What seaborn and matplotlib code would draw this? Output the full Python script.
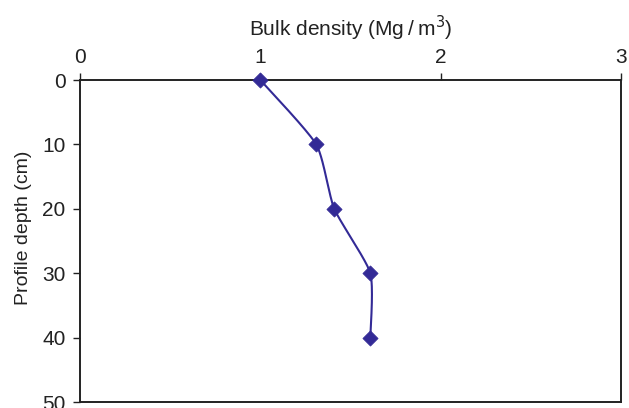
import numpy as np
import pandas as pd
import matplotlib
matplotlib.use("Agg")
import matplotlib.pyplot as plt
import seaborn as sns

# Soil profile: bulk density at each sampled depth
depth_cm = [0, 10, 20, 30, 40]
bulk_density = [1.0, 1.31, 1.41, 1.61, 1.61]
x_ticks = [0, 1, 2, 3]
y_ticks = [0, 10, 20, 30, 40, 50]

df = pd.DataFrame({"depth": depth_cm, "density": bulk_density})

sns.set_theme(style="white")
plt.rcParams["font.family"] = ["Liberation Sans", "DejaVu Sans"]

line_color = "#332a96"
text_color = "#222222"

fig = plt.figure(figsize=(6.29, 4.08), dpi=100)
ax = fig.add_axes([80 / 629, 6 / 408, 541 / 629, 322 / 408])


def smooth_path(xs, ys, tension=0.5, steps=40):
    """Cardinal spline through the points (smoothed line rendering)."""
    px = np.asarray(xs, float)
    py = np.asarray(ys, float)
    n = len(px)
    mx = np.zeros(n)
    my = np.zeros(n)
    for i in range(n):
        a = max(i - 1, 0)
        b = min(i + 1, n - 1)
        mx[i] = tension * (px[b] - px[a])
        my[i] = tension * (py[b] - py[a])
    t = np.linspace(0, 1, steps)
    h00 = 2 * t ** 3 - 3 * t ** 2 + 1
    h10 = t ** 3 - 2 * t ** 2 + t
    h01 = -2 * t ** 3 + 3 * t ** 2
    h11 = t ** 3 - t ** 2
    outx, outy = [], []
    for i in range(n - 1):
        segx = h00 * px[i] + h10 * mx[i] + h01 * px[i + 1] + h11 * mx[i + 1]
        segy = h00 * py[i] + h10 * my[i] + h01 * py[i + 1] + h11 * my[i + 1]
        outx.extend(segx if i == 0 else segx[1:])
        outy.extend(segy if i == 0 else segy[1:])
    return np.array(outx), np.array(outy)


sx, sy = smooth_path(df["density"], df["depth"], tension=0.3)
ax.plot(sx, sy, color=line_color, lw=1.5, zorder=3)
sns.scatterplot(data=df, x="density", y="depth", ax=ax, marker="D",
                s=60, color=line_color, edgecolor=line_color, linewidth=0.5,
                zorder=4, clip_on=False)

ax.set_xlim(0, 3)
ax.set_ylim(50, 0)
ax.set_xticks(x_ticks)
ax.set_yticks(y_ticks)
ax.xaxis.tick_top()
ax.xaxis.set_label_position("top")
ax.set_xlabel("Bulk density (Mg\u2009/\u2009m$^3$)", fontsize=15, color=text_color)
ax.set_ylabel("Profile depth (cm)", fontsize=14, color=text_color)
ax.xaxis.set_label_coords(0.5, 1.135)
ax.yaxis.set_label_coords(-0.088, 0.54)
ax.tick_params(axis="both", which="major", labelsize=15, length=5, width=1,
               direction="out", colors=text_color)
ax.tick_params(axis="x", top=True, bottom=False, pad=4.5)
ax.tick_params(axis="y", left=True, pad=5.5)

for side in ["top", "bottom", "left", "right"]:
    ax.spines[side].set_visible(True)
    ax.spines[side].set_color(text_color)
    ax.spines[side].set_linewidth(1.4)

ax.grid(False)
fig.savefig("out.png", dpi=100)
